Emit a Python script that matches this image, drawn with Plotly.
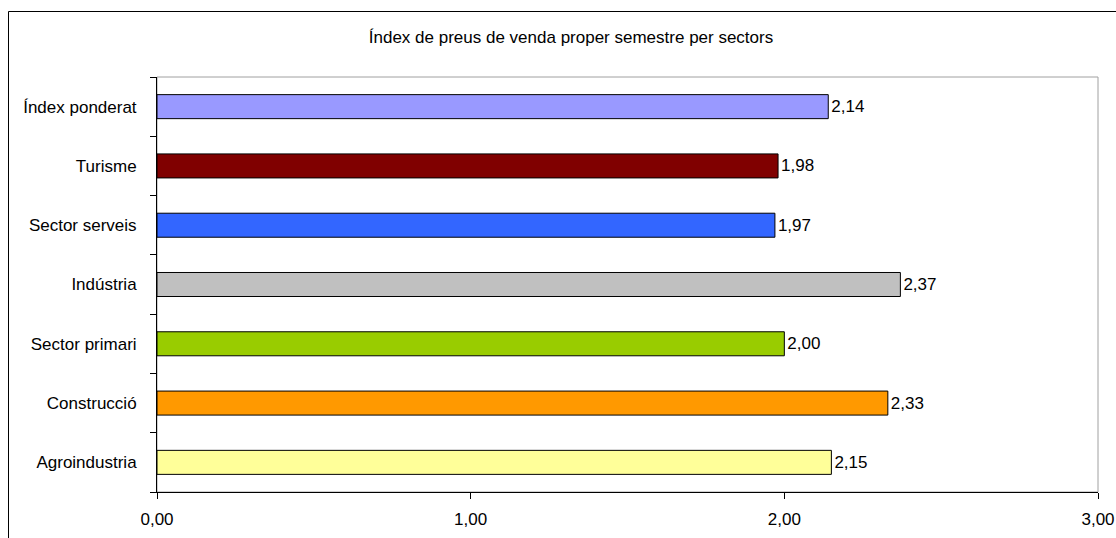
import plotly.graph_objects as go

categories = ["Agroindustria", "Construcció", "Sector primari", "Indústria",
              "Sector serveis", "Turisme", "Índex ponderat"]
values = [2.15, 2.33, 2.00, 2.37, 1.97, 1.98, 2.14]
colors = ["#FFFF99", "#FF9900", "#99CC00", "#C0C0C0", "#3366FF", "#800000", "#9999FF"]
value_labels = ["2,15", "2,33", "2,00", "2,37", "1,97", "1,98", "2,14"]
x_ticks = [0, 1, 2, 3]

W, H = 1116, 538
L, R, T, B = 157, 18, 77, 46
pw, ph = W - L - R, H - T - B

FONT = "Liberation Sans, Arial, sans-serif"

fig = go.Figure(go.Bar(
    y=categories, x=values, orientation="h",
    marker=dict(color=colors, line=dict(color="black", width=1)),
    text=value_labels, textposition="outside",
    textfont=dict(family=FONT, size=17, color="black"),
    cliponaxis=False, hoverinfo="skip",
))

def px_x(p):  # page pixel -> paper x
    return (p - L) / pw

def px_y(p):  # page pixel -> paper y
    return (H - B - p) / ph

fig.update_layout(
    template="none",
    width=W, height=H,
    margin=dict(l=L, r=R, t=T, b=B, pad=0),
    paper_bgcolor="white", plot_bgcolor="white",
    separators=",.",
    bargap=0.595,
    showlegend=False,
    font=dict(family=FONT, size=17, color="black"),
    title=dict(text="Índex de preus de venda proper semestre per sectors",
               x=571 / W, xanchor="center", xref="container",
               y=1 - 37 / H, yanchor="middle", yref="container",
               font=dict(family=FONT, size=17, color="black")),
    xaxis=dict(range=[0, 3], tickvals=x_ticks, tickformat=".2f",
               automargin=False,
               showgrid=False, zeroline=False,
               showline=True, linecolor="black", linewidth=1,
               ticks="outside", ticklen=6, tickcolor="black", tickwidth=1,
               ticklabelstandoff=6,
               tickfont=dict(family=FONT, size=17, color="black")),
    yaxis=dict(automargin=False, showgrid=False, zeroline=False,
               showline=True, linecolor="black", linewidth=1,
               ticks="outside", ticklen=6, tickcolor="black", tickwidth=1,
               tickson="boundaries", ticklabelstandoff=16,
               tickfont=dict(family=FONT, size=17, color="black")),
    shapes=[
        dict(type="rect", xref="paper", yref="paper", x0=0, x1=1, y0=0, y1=1,
             line=dict(color="#A0A0A0", width=1), layer="below"),
        dict(type="rect", xref="paper", yref="paper",
             x0=px_x(8.5), x1=px_x(1130), y0=px_y(550), y1=px_y(11.5),
             line=dict(color="black", width=1), layer="above"),
    ],
)

fig.write_html("out.html",
               config={"displayModeBar": False},
               post_script="document.body.style.margin='0';"
                           "document.body.style.overflow='hidden';")
